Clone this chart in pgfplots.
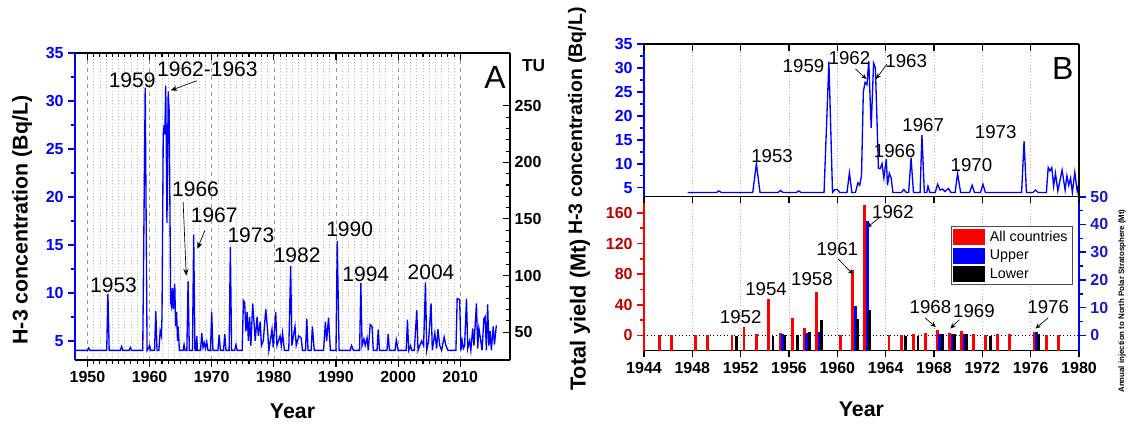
\documentclass[border=0pt]{standalone}
\usepackage{pgfplots}
\pgfplotsset{compat=1.18}
\usepackage{fontspec}
\setmainfont{Liberation Sans}
\usetikzlibrary{arrows.meta}
\definecolor{hblue}{RGB}{0,0,255}
\definecolor{dred}{RGB}{190,0,0}
\definecolor{dblue}{RGB}{25,25,200}
\pgfplotsset{
  every axis/.append style={scale only axis,
    /pgf/number format/assume math mode=true,
    /pgf/number format/1000 sep={}},
  tickfont/.style={font=\fontsize{12}{12}\selectfont\bfseries},
  barstyle/.style={no markers, draw=none, forget plot,
    error bars/.cd, y dir=minus, y explicit, error mark=none,
    error bar style={draw=#1, line width=2.1pt}},
}
\newcommand{\annA}{\fontsize{15.75}{16}\selectfont}
\newcommand{\annB}{\fontsize{14}{14}\selectfont}
\newcommand{\ttl}{\fontsize{16}{16}\selectfont\bfseries}
\begin{document}
\begin{tikzpicture}
\path[use as bounding box] (0,0) rectangle (847.5pt,320.25pt);
%================ PANEL A =================
\begin{axis}[
  at={(56.25pt,50.25pt)}, anchor=south west,
  width=326.25pt, height=230.25pt,
  xmin=1948, xmax=2018, ymin=3, ymax=35,
  axis x line*=bottom, axis y line*=left,
  x axis line style={-, black, line width=0.9pt},
  y axis line style={-, hblue, line width=1.6pt},
  tick align=outside,
  xtick={1950,1960,...,2010}, minor x tick num=9,
  ytick={5,10,...,35}, minor y tick num=1,
  major tick length=5pt, minor tick length=3pt,
  x tick style={black, line width=0.8pt},
  y tick style={hblue, line width=1.2pt},
  xticklabel style={tickfont, black},
  yticklabel style={tickfont, hblue},
  xmajorgrids, xminorgrids,
  major x grid style={dashed, gray!80, line width=0.5pt},
  minor x grid style={dotted, gray!55, line width=0.5pt},
]
\addplot[hblue, line width=1pt] coordinates {
(1948,4) (1950.0,4) (1950.2,4.25) (1950.4,4) (1953.1,4) (1953.3,9.9) (1953.5,4) (1955.3,4) (1955.5,4.4) (1955.7,4) (1956.7,4) (1956.9,4.3) (1957.1,4) (1958.9,4) (1959.3,31.4) (1959.6,4) (1959.8,4.2) (1960.0,4.5) (1960.2,4) (1960.8,4) (1961.0,8.1) (1961.2,4) (1961.5,4) (1961.7,6.0) (1961.9,5.5) (1962.0,7.5) (1962.2,26.5) (1962.35,27.5) (1962.45,26.5) (1962.6,31.6) (1962.8,17.3) (1963.0,31.0) (1963.15,29) (1963.4,9) (1963.55,8.5) (1963.7,10.5) (1963.85,8.3) (1964.05,10.9) (1964.2,6.5) (1964.35,8) (1964.5,5) (1964.6,6.5) (1964.8,4) (1965.4,4) (1965.55,4.6) (1965.7,4) (1966.0,4) (1966.2,11.2) (1966.4,4) (1966.9,4) (1967.1,16.1) (1967.3,4) (1967.5,4) (1967.6,5.5) (1967.7,4) (1968.2,4) (1968.4,5.8) (1968.6,4.3) (1968.8,4.8) (1969.0,4.2) (1969.2,4.9) (1969.4,4) (1969.8,4) (1970.0,8.0) (1970.2,4) (1971.0,4) (1971.2,5.6) (1971.4,4) (1971.9,4) (1972.1,5.7) (1972.3,4) (1972.8,4) (1973.0,14.8) (1973.2,4) (1973.7,4) (1973.9,4.6) (1974.1,4) (1974.9,4) (1975.1,9.2) (1975.3,9.0) (1975.5,6) (1975.7,8) (1975.9,5) (1976.1,7.5) (1976.3,4.5) (1976.6,8.9) (1976.8,7) (1977.0,5) (1977.3,7.5) (1977.5,5.5) (1977.8,7) (1978.0,4.5) (1978.3,5) (1978.7,8.3) (1979.0,6) (1979.2,4) (1979.7,6.2) (1979.9,4.3) (1980.3,8.0) (1980.5,4.5) (1981.0,5.5) (1981.2,4.5) (1981.4,5.8) (1981.7,4) (1982.4,4) (1982.7,12.8) (1982.9,4.5) (1983.4,6.5) (1983.6,4.5) (1984.0,5.5) (1984.4,5.3) (1984.6,4) (1985.1,4) (1985.3,7.3) (1985.5,4) (1986.0,4) (1986.2,6.5) (1986.5,4) (1988.0,4) (1988.3,7.0) (1988.5,5) (1988.8,7.4) (1989.1,4) (1990.0,4) (1990.2,15.4) (1990.5,4) (1992.3,4) (1992.5,4.5) (1992.8,4) (1993.8,4) (1994.0,11) (1994.2,4.5) (1994.5,5.2) (1994.7,4.5) (1995.0,5.3) (1995.2,4) (1995.5,6.7) (1995.8,6.5) (1996.0,4) (1996.6,4) (1996.8,6.2) (1997.0,4) (1998.2,4) (1998.4,5.7) (1998.6,4) (1999.5,4) (1999.7,5.1) (2000.0,4) (2001.3,4) (2001.5,7.2) (2001.7,4) (2002.0,4.5) (2002.2,4) (2002.6,4) (2003.0,8.2) (2003.2,4) (2003.8,5) (2004.1,4.5) (2004.4,11.1) (2004.6,4) (2004.9,5) (2005.3,8.9) (2005.5,4) (2005.9,5.8) (2006.2,4.2) (2006.4,6.2) (2006.7,4.5) (2007.0,4) (2007.4,5.4) (2007.7,4.5) (2008.0,4) (2009.3,4) (2009.5,9.4) (2009.9,9.3) (2010.1,4) (2010.3,5) (2010.5,4.2) (2010.7,4.5) (2011.0,9.4) (2011.2,4.2) (2011.5,5) (2011.7,4) (2012.0,6.3) (2012.2,4.5) (2012.6,8.9) (2012.8,4.2) (2013.0,6.3) (2013.3,5) (2013.5,4) (2013.8,7.3) (2014.0,7.5) (2014.2,4) (2014.4,8.8) (2014.6,4.5) (2014.8,6) (2015.0,4) (2015.3,6.5) (2015.5,4.6) (2015.8,6.6)
};
\node[font=\annA] at (axis cs:1954.2,10.8) {1953};
\node[font=\annA] at (axis cs:1957.2,32.2) {1959};
\node[font=\annA] at (axis cs:1969.3,33.3) {1962-1963};
\node[font=\annA] at (axis cs:1967.4,20.8) {1966};
\node[font=\annA] at (axis cs:1970.4,18.1) {1967};
\node[font=\annA] at (axis cs:1976.3,16.0) {1973};
\node[font=\annA] at (axis cs:1983.75,13.9) {1982};
\node[font=\annA] at (axis cs:1992.2,16.6) {1990};
\node[font=\annA] at (axis cs:1994.8,11.9) {1994};
\node[font=\annA] at (axis cs:2005.3,12.1) {2004};
\node[font=\fontsize{24}{24}\selectfont] at (axis cs:2015.6,32.4) {A};
\draw[-{Stealth[length=5pt,width=4pt]}, line width=0.5pt] (axis cs:1967.6,32.1) -- (axis cs:1963.4,31.1);
\draw[-{Stealth[length=5pt,width=4pt]}, line width=0.5pt] (axis cs:1965.4,19.5) -- (axis cs:1965.9,11.8);
\draw[-{Stealth[length=5pt,width=4pt]}, line width=0.5pt] (axis cs:1968.9,16.5) -- (axis cs:1967.7,14.6);
\end{axis}
\begin{axis}[
  at={(56.25pt,50.25pt)}, anchor=south west,
  width=326.25pt, height=230.25pt,
  xmin=1948, xmax=2018, ymin=25.424, ymax=296.61,
  axis x line*=top, axis y line*=right,
  axis line style={-, black, line width=0.9pt},
  tick align=inside,
  xtick={1950,1960,...,2010}, minor x tick num=9, xticklabels={},
  ytick={50,100,...,250}, minor y tick num=4,
  major tick length=5pt, minor tick length=3pt,
  tick style={black, line width=0.8pt},
  yticklabel style={tickfont, black},
]
\end{axis}
\node[font=\ttl, rotate=90] at (16.5pt,155.25pt) {H-3 concentration (Bq/L)};
\node[font=\ttl] at (219.4pt,12pt) {Year};
\node[font=\fontsize{13}{13}\selectfont\bfseries, anchor=west] at (388pt,270.75pt) {TU};
%================ PANEL B top =================
\begin{axis}[
  at={(483pt,172.7pt)}, anchor=south west,
  width=326.25pt, height=114.5pt,
  xmin=1944, xmax=1980, ymin=3.1, ymax=35,
  axis x line*=bottom, axis y line*=left,
  x axis line style={-, black, line width=0.9pt},
  y axis line style={-, hblue, line width=1.6pt},
  tick align=outside,
  xtick={1944,1948,...,1980}, minor x tick num=3, xticklabels={},
  x tick style={draw=none},
  ytick={5,10,...,35}, minor y tick num=1,
  major tick length=5pt, minor tick length=3pt,
  y tick style={hblue, line width=1.2pt},
  yticklabel style={tickfont, hblue},
  xmajorgrids, xminorgrids,
  major x grid style={dotted, gray!60, line width=0.5pt},
  minor x grid style={dotted, gray!60, line width=0.5pt},
]
\addplot[hblue, line width=1pt] coordinates {
(1947.6,4) (1950.0,4) (1950.2,4.3) (1950.4,4) (1953.0,4) (1953.3,10) (1953.6,4) (1955.1,4) (1955.3,4.4) (1955.5,4) (1956.6,4) (1956.8,4.3) (1957.0,4) (1958.9,4) (1959.3,31.3) (1959.6,4) (1959.8,4.6) (1960.0,4.6) (1960.2,4) (1960.8,4) (1961.0,8.1) (1961.2,4) (1961.5,4) (1961.7,6.0) (1961.85,5.5) (1962.0,7.5) (1962.15,25) (1962.3,27) (1962.45,26.5) (1962.6,31.5) (1962.8,17.5) (1963.0,31) (1963.15,30) (1963.4,9) (1963.55,9) (1963.7,10) (1963.85,7) (1964.05,11) (1964.15,5.5) (1964.3,8) (1964.45,7) (1964.6,4) (1964.8,4) (1965.3,4) (1965.5,4.6) (1965.7,4) (1965.9,4) (1966.1,11.2) (1966.3,4) (1966.85,4) (1967.0,16) (1967.2,4) (1967.4,4) (1967.5,5.3) (1967.65,4) (1968.1,4) (1968.3,5.7) (1968.5,4.5) (1968.7,4.7) (1968.9,4.2) (1969.2,4.8) (1969.4,4) (1969.75,4) (1969.95,8) (1970.2,4) (1970.95,4) (1971.15,5.5) (1971.35,4) (1971.85,4) (1972.05,5.7) (1972.25,4) (1975.25,4) (1975.45,14.7) (1975.65,4) (1976.2,4) (1976.4,4.5) (1976.6,4) (1977.3,4) (1977.45,9.2) (1977.6,8.5) (1977.75,9.2) (1977.9,5.3) (1978.05,8) (1978.25,4.3) (1978.6,8.7) (1978.85,4.5) (1979.0,7.5) (1979.15,5.5) (1979.3,7) (1979.45,4) (1979.65,8.2) (1979.85,4.2) (1980,6)
};
\node[font=\annB] at (axis cs:1954.6,11.6) {1953};
\node[font=\annB] at (axis cs:1957.2,30.5) {1959};
\node[font=\annB] at (axis cs:1961.0,32.1) {1962};
\node[font=\annB] at (axis cs:1965.7,31.4) {1963};
\node[font=\annB] at (axis cs:1964.75,12.7) {1966};
\node[font=\annB] at (axis cs:1967.1,18.0) {1967};
\node[font=\annB] at (axis cs:1971.1,9.8) {1970};
\node[font=\annB] at (axis cs:1973.1,16.6) {1973};
\node[font=\fontsize{24}{24}\selectfont] at (axis cs:1978.65,29.8) {B};
\draw[-{Stealth[length=4pt,width=3.5pt]}, line width=0.5pt] (axis cs:1961.5,29.8) -- (axis cs:1962.4,27.7);
\draw[-{Stealth[length=4pt,width=3.5pt]}, line width=0.5pt] (axis cs:1964.1,30.8) -- (axis cs:1963.2,27.7);
\end{axis}
\begin{axis}[
  at={(483pt,172.7pt)}, anchor=south west,
  width=326.25pt, height=114.5pt,
  xmin=1944, xmax=1980, ymin=3.1, ymax=35,
  axis x line*=top, axis y line*=right,
  axis line style={-, black, line width=0.9pt},
  tick align=inside,
  xtick={1944,1948,...,1980}, minor x tick num=3, xticklabels={},
  ytick=\empty,
  major tick length=5pt, minor tick length=3pt,
  tick style={black, line width=0.8pt},
]
\end{axis}
%================ PANEL B bottom =================
\begin{axis}[
  at={(483pt,57.2pt)}, anchor=south west,
  width=326.25pt, height=115.5pt,
  xmin=1944, xmax=1980, ymin=-20, ymax=181.2,
  axis x line*=bottom, axis y line*=left,
  x axis line style={-, black, line width=0.9pt},
  y axis line style={-, red, line width=1.6pt},
  tick align=outside,
  xtick={1944,1948,...,1980}, minor x tick num=3,
  ytick={0,40,...,160}, minor y tick num=1,
  major tick length=5pt, minor tick length=3pt,
  x tick style={black, line width=0.8pt},
  y tick style={red, line width=1.2pt},
  xticklabel style={tickfont, black},
  yticklabel style={tickfont, dred},
  xmajorgrids, xminorgrids,
  major x grid style={dotted, gray!60, line width=0.5pt},
  minor x grid style={dotted, gray!60, line width=0.5pt},
]
\addplot[black, dotted, line width=0.6pt] coordinates {(1944,0) (1980,0)};
\addplot[barstyle=red]
coordinates {
(1945.28,1) -= (0,21) (1946.28,1) -= (0,21) (1948.28,1) -= (0,21) (1949.28,1) -= (0,21)
(1951.28,0.8) -= (0,20.8) (1952.28,11.3) -= (0,31.3) (1953.28,1.7) -= (0,21.7)
(1954.28,48) -= (0,68) (1955.28,2.6) -= (0,22.6) (1956.28,23.4) -= (0,43.4)
(1957.28,10) -= (0,30) (1958.28,56.4) -= (0,76.4) (1960.28,0.8) -= (0,20.8)
(1961.28,85.8) -= (0,105.8) (1962.28,170.4) -= (0,190.4) (1964.28,0.8) -= (0,20.8)
(1965.28,0.8) -= (0,20.8) (1966.28,1.3) -= (0,21.3) (1967.28,3.5) -= (0,23.5)
(1968.28,7.4) -= (0,27.4) (1969.28,3.5) -= (0,23.5) (1970.28,5.6) -= (0,25.6)
(1971.28,1.3) -= (0,21.3) (1972.28,0.8) -= (0,20.8) (1973.28,2.2) -= (0,22.2)
(1974.28,1.3) -= (0,21.3) (1976.28,4.8) -= (0,24.8) (1977.28,1.2) -= (0,21.2)
(1978.28,0.8) -= (0,20.8)
};
\node[font=\annB] at (axis cs:1952.0,24.2) {1952};
\node[font=\annB] at (axis cs:1954.1,61) {1954};
\node[font=\annB] at (axis cs:1957.9,73) {1958};
\node[font=\annB] at (axis cs:1960.0,113) {1961};
\node[font=\annB] at (axis cs:1964.6,161) {1962};
\node[font=\annB] at (axis cs:1967.7,37) {1968};
\node[font=\annB] at (axis cs:1971.3,32) {1969};
\node[font=\annB] at (axis cs:1977.45,37) {1976};
\draw[-{Stealth[length=4pt,width=3.5pt]}, line width=0.5pt] (axis cs:1960.05,100) -- (axis cs:1961.3,80);
\draw[-{Stealth[length=4pt,width=3.5pt]}, line width=0.5pt] (axis cs:1963.5,154) -- (axis cs:1962.45,141);
\draw[-{Stealth[length=4pt,width=3.5pt]}, line width=0.5pt] (axis cs:1967.25,23) -- (axis cs:1968.15,11);
\draw[-{Stealth[length=4pt,width=3.5pt]}, line width=0.5pt] (axis cs:1970.1,20.6) -- (axis cs:1969.35,9);
\draw[-{Stealth[length=4pt,width=3.5pt]}, line width=0.5pt] (axis cs:1977.45,23) -- (axis cs:1976.4,9);
\end{axis}
\begin{axis}[
  at={(483pt,57.2pt)}, anchor=south west,
  width=326.25pt, height=115.5pt,
  xmin=1944, xmax=1980, ymin=-5.56, ymax=50,
  axis x line=none, axis y line*=right,
  y axis line style={-, hblue, line width=1.6pt},
  tick align=outside,
  ytick={0,10,...,50}, minor y tick num=1,
  major tick length=5pt, minor tick length=3pt,
  y tick style={hblue, line width=1.2pt},
  yticklabel style={tickfont, dblue},
  legend style={at={(0.9855,0.8117)}, anchor=north east, draw=black!70, line width=0.6pt,
    font=\fontsize{10.7}{11}\selectfont, inner sep=1.5pt, row sep=1pt,
    /tikz/every odd column/.append style={column sep=2pt}},
  legend cell align=left,
]
\addlegendimage{legend image code/.code={\fill[red] (0pt,-5.5pt) rectangle (23pt,5.5pt);}}
\addlegendentry{All countries}
\addlegendimage{legend image code/.code={\fill[hblue] (0pt,-5.5pt) rectangle (23pt,5.5pt);}}
\addlegendentry{Upper}
\addlegendimage{legend image code/.code={\fill[black] (0pt,-5.5pt) rectangle (23pt,5.5pt);}}
\addlegendentry{Lower}
\addplot[barstyle=hblue]
coordinates {
(1955.48,0.3) -= (0,5.86) (1957.48,0.7) -= (0,6.26) (1958.48,1.1) -= (0,6.66)
(1961.48,10.6) -= (0,16.16) (1962.48,41.4) -= (0,46.96) (1968.48,0.6) -= (0,6.16)
(1969.48,0.5) -= (0,6.06) (1970.48,0.5) -= (0,6.06) (1976.48,1.2) -= (0,6.76)
};
\addplot[barstyle=black]
coordinates {
(1951.67,-0.3) -= (0,5.26) (1954.67,-0.3) -= (0,5.26) (1955.67,0.1) -= (0,5.66)
(1956.67,0) -= (0,5.56) (1957.67,1.1) -= (0,6.66) (1958.67,5.5) -= (0,11.06)
(1961.67,5.8) -= (0,11.36) (1962.67,9.1) -= (0,14.66) (1965.67,-0.3) -= (0,5.26)
(1966.67,-0.3) -= (0,5.26) (1968.67,0.4) -= (0,5.96) (1969.67,0.4) -= (0,5.96)
(1970.67,0.4) -= (0,5.96) (1972.67,-0.3) -= (0,5.26) (1976.67,0.4) -= (0,5.96)
};
\end{axis}
\begin{axis}[
  at={(483pt,57.2pt)}, anchor=south west,
  width=326.25pt, height=115.5pt,
  xmin=1944, xmax=1980, ymin=-5.56, ymax=50,
  axis x line*=top, axis y line=none,
  axis line style={-, black, line width=0.9pt},
  tick align=inside,
  xtick={1944,1948,...,1980}, minor x tick num=3, xticklabels={},
  major tick length=5pt, minor tick length=3pt,
  tick style={black, line width=0.8pt},
]
\end{axis}
\node[font=\fontsize{14.6}{15}\selectfont\bfseries, rotate=90] at (432.75pt,229.5pt) {H-3 concentration (Bq/L)};
\node[font=\fontsize{16.3}{16}\selectfont\bfseries, rotate=90] at (435pt,84pt) {Total yield (Mt)};
\node[font=\ttl] at (646.1pt,13.5pt) {Year};
\node[font=\fontsize{5.9}{6}\selectfont\bfseries, rotate=90] at (841.5pt,94.5pt) {Annual injection to North Polar Stratosphere (Mt)};
\end{tikzpicture}
\end{document}
